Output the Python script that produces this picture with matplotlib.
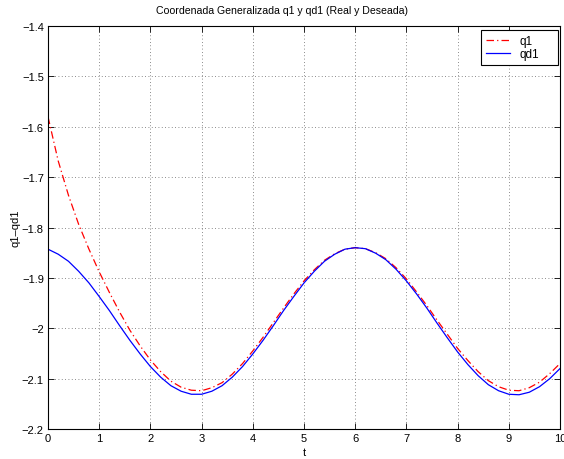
import matplotlib
matplotlib.use('Agg')
import matplotlib.pyplot as plt
import matplotlib.ticker as ticker

plt.rcParams['font.family'] = ['Liberation Sans', 'DejaVu Sans']

# time samples (s)
t = [0.0, 0.2, 0.4, 0.6, 0.8, 1.0, 1.2, 1.4, 1.6, 1.8, 2.0, 2.2, 2.4, 2.6,
     2.8, 3.0, 3.2, 3.4, 3.6, 3.8, 4.0, 4.2, 4.4, 4.6, 4.8, 5.0, 5.2, 5.4,
     5.6, 5.8, 6.0, 6.2, 6.4, 6.6, 6.8, 7.0, 7.2, 7.4, 7.6, 7.8, 8.0, 8.2,
     8.4, 8.6, 8.8, 9.0, 9.2, 9.4, 9.6, 9.8, 10.0]

# real trajectory
q1 = [-1.580, -1.668, -1.736, -1.794, -1.843, -1.888, -1.929, -1.968, -2.004,
      -2.035, -2.063, -2.086, -2.105, -2.117, -2.123, -2.124, -2.118, -2.108,
      -2.091, -2.070, -2.045, -2.018, -1.989, -1.960, -1.932, -1.906, -1.884,
      -1.865, -1.852, -1.843, -1.840, -1.842, -1.850, -1.862, -1.880, -1.902,
      -1.928, -1.955, -1.984, -2.012, -2.040, -2.064, -2.086, -2.104, -2.116,
      -2.123, -2.124, -2.118, -2.107, -2.090, -2.070]

# desired trajectory
qd1 = [-1.843, -1.853, -1.867, -1.887, -1.910, -1.937, -1.965, -1.995, -2.024,
       -2.051, -2.076, -2.097, -2.114, -2.125, -2.131, -2.131, -2.125, -2.114,
       -2.097, -2.076, -2.051, -2.024, -1.995, -1.965, -1.937, -1.910, -1.887,
       -1.867, -1.853, -1.843, -1.840, -1.842, -1.851, -1.864, -1.883, -1.906,
       -1.932, -1.960, -1.990, -2.019, -2.047, -2.072, -2.094, -2.112, -2.124,
       -2.131, -2.132, -2.127, -2.116, -2.100, -2.080]

x_ticks = list(range(0, 11))
y_ticks = [-2.2, -2.1, -2.0, -1.9, -1.8, -1.7, -1.6, -1.5, -1.4]


def fmt(v, pos):
    return f'{v:g}'.replace('-', '\u2212')


fig = plt.figure(figsize=(5.64, 4.6), dpi=100)
ax = fig.add_axes([0.0851, 0.0652, 0.9078, 0.876])

ax.plot(t, q1, color='red', linestyle=(0, (6, 2.5, 1, 2.5)), linewidth=0.9, label='q1')
ax.plot(t, qd1, color='blue', linestyle='-', linewidth=0.9, label='qd1')

ax.set_xlim(0, 10)
ax.set_ylim(-2.2, -1.4)
ax.set_xticks(x_ticks)
ax.set_yticks(y_ticks)
ax.xaxis.set_major_formatter(ticker.FuncFormatter(fmt))
ax.yaxis.set_major_formatter(ticker.FuncFormatter(fmt))
ax.tick_params(direction='in', top=True, right=True, labelsize=8, length=4, width=0.6, pad=3)
ax.grid(True, linestyle=(0, (1, 3)), color='#666666', linewidth=0.6)
for s in ax.spines.values():
    s.set_linewidth(0.8)

# title is centred on the figure, not on the axes
fig.text(0.5, 0.976, 'Coordenada Generalizada q1 y qd1 (Real y Deseada)',
         fontsize=7.6, ha='center', va='center')
ax.set_xlabel('t', fontsize=8, labelpad=3)
ax.set_ylabel('q1\u2013qd1', fontsize=8, labelpad=1)

# legend box roughly where the original sits (upper right corner)
leg = ax.legend(loc='upper right', bbox_to_anchor=(0.8457, 0.9107, 0.1504, 0.0793),
                mode='expand', borderaxespad=0, fontsize=8.5, fancybox=False,
                framealpha=1, edgecolor='black', handlelength=2.0,
                borderpad=0.45, labelspacing=0.05, handletextpad=0.8)
leg.get_frame().set_linewidth(0.8)

fig.savefig('out.png', dpi=100)
